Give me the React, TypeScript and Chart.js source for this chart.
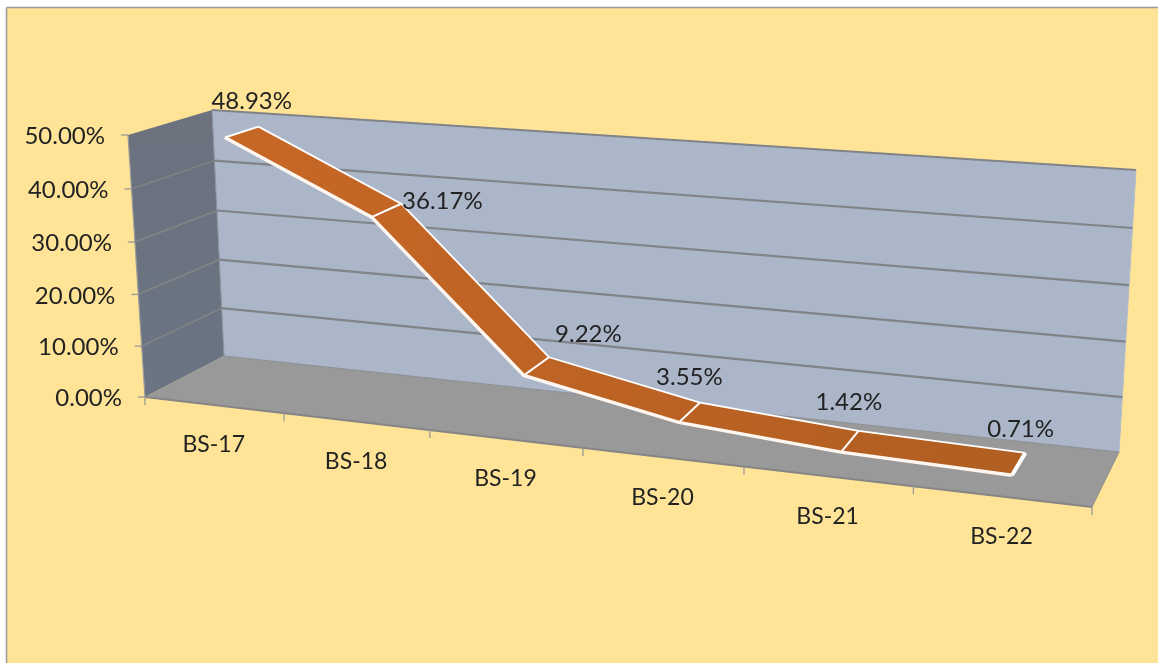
import React, { useEffect, useRef } from "react";
import { Chart, registerables } from "chart.js";

Chart.register(...registerables);

const categories = ["BS-17", "BS-18", "BS-19", "BS-20", "BS-21", "BS-22"];
const shareValues = [48.93, 36.17, 9.22, 3.55, 1.42, 0.71];
const valueLabels = ["48.93%", "36.17%", "9.22%", "3.55%", "1.42%", "0.71%"];
const yMin = 0;
const yMax = 50;
const yStep = 10;

// Layout of the 3D box, separate from the data
type Pt = [number, number];
const FRONT_BOTTOM_L: Pt = [145, 397];
const FRONT_BOTTOM_R: Pt = [1092, 507];
const FRONT_TOP_L: Pt = [128, 135];
const FRONT_TOP_R: Pt = [1107, 204];
const BACK_BOTTOM_L: Pt = [224, 356];
const BACK_BOTTOM_R: Pt = [1119, 452];
const BACK_TOP_L: Pt = [212, 110];
const BACK_TOP_R: Pt = [1136, 170];
const PERSPECTIVE = 0.8605;
const PERSPECTIVE_V = 0.965;
const RIBBON_FRONT = 0.32;
const RIBBON_BACK = 0.74;
const RIBBON_MID = 0.53;
const LABEL_SHIFT: Pt[] = [
  [10, -31],
  [56, -9],
  [52, -32],
  [0, -35],
  [-1, -39],
  [2, -35],
];
const FONT = '24px Lato, "Open Sans", sans-serif';
const CATEGORY_FONT = '23px Lato, "Open Sans", sans-serif';
const TEXT = "#222222";

const lerp = (a: number, b: number, t: number) => a + (b - a) * t;
const lerpP = (a: Pt, b: Pt, t: number): Pt => [lerp(a[0], b[0], t), lerp(a[1], b[1], t)];

function project(u: number, v: number, d: number): Pt {
  const t = (u * PERSPECTIVE) / (1 - u + u * PERSPECTIVE);
  const s = (v * PERSPECTIVE_V) / (1 - v + v * PERSPECTIVE_V);
  const fb = lerpP(FRONT_BOTTOM_L, FRONT_BOTTOM_R, t);
  const ft = lerpP(FRONT_TOP_L, FRONT_TOP_R, t);
  const bb = lerpP(BACK_BOTTOM_L, BACK_BOTTOM_R, t);
  const bt = lerpP(BACK_TOP_L, BACK_TOP_R, t);
  return lerpP(lerpP(fb, ft, s), lerpP(bb, bt, s), d);
}

function norm(chart: any, i: number, value: number): [number, number] {
  const x = chart.scales.x;
  const y = chart.scales.y;
  return [(x.getPixelForValue(i) - x.left) / x.width, (y.bottom - y.getPixelForValue(value)) / y.height];
}

function poly(ctx: CanvasRenderingContext2D, pts: Pt[], fill: string | CanvasGradient) {
  ctx.beginPath();
  pts.forEach((p, i) => (i ? ctx.lineTo(p[0], p[1]) : ctx.moveTo(p[0], p[1])));
  ctx.closePath();
  ctx.fillStyle = fill;
  ctx.fill();
}

function seg(ctx: CanvasRenderingContext2D, a: Pt, b: Pt, color: string, width: number) {
  ctx.beginPath();
  ctx.moveTo(a[0], a[1]);
  ctx.lineTo(b[0], b[1]);
  ctx.strokeStyle = color;
  ctx.lineWidth = width;
  ctx.stroke();
}

const box3d = {
  id: "box3d",
  afterDatasetsUpdate(chart: any) {
    const meta = chart.getDatasetMeta(0);
    meta.data.forEach((el: any, i: number) => {
      const [u, v] = norm(chart, i, shareValues[i]);
      const p = project(u, v, RIBBON_FRONT);
      el.x = p[0];
      el.y = p[1];
    });
  },
  beforeDraw(chart: any) {
    const ctx: CanvasRenderingContext2D = chart.ctx;
    const { width, height } = chart;
    ctx.save();
    ctx.fillStyle = "#ffffff";
    ctx.fillRect(0, 0, width, height);
    ctx.fillStyle = "#FFE497";
    ctx.fillRect(7, 8, width - 7, height - 11);
    seg(ctx, [6.5, 7.5], [width, 7.5], "#999999", 1.5);
    seg(ctx, [6.5, 7.5], [6.5, height - 3], "#999999", 1.5);

    // walls and floor
    const wall = ctx.createLinearGradient(0, 110, 0, 400);
    wall.addColorStop(0, "#6C727E");
    wall.addColorStop(1, "#6A7483");
    poly(ctx, [project(0, 0, 0), project(0, 1, 0), project(0, 1, 1), project(0, 0, 1)], wall);
    poly(ctx, [project(0, 0, 1), project(0, 1, 1), project(1, 1, 1), project(1, 0, 1)], "#ABB6C9");
    poly(ctx, [project(0, 0, 0), project(0, 0, 1), project(1, 0, 1), project(1, 0, 0)], "#999999");
    seg(ctx, project(0, 0, 0), project(0, 1, 0), "#9a9a9a", 1.2);
    seg(ctx, project(0, 0, 1), project(0, 1, 1), "#8a919e", 1);
    seg(ctx, project(1, 0, 1), project(1, 1, 1), "#b4bccb", 1);
    seg(ctx, project(1, 0, 0), project(1, 0, 1), "#8f8f8f", 1);
    seg(ctx, project(0, 0, 0), project(1, 0, 0), "#858585", 2);

    // value axis: gridlines, ticks and tick labels from the scale
    const y = chart.scales.y;
    ctx.font = FONT;
    ctx.textBaseline = "middle";
    y.ticks.forEach((tick: any) => {
      const v = (y.bottom - y.getPixelForValue(tick.value)) / y.height;
      const a = project(0, v, 0);
      const b = project(0, v, 1);
      const c = project(1, v, 1);
      if (v > 0 && v < 1) seg(ctx, a, b, "#858585", 1.5);
      seg(ctx, b, c, v > 0 ? "#808388" : "#8b8f96", v > 0 ? 2.2 : 1.2);
      seg(ctx, [a[0] - 7, a[1]], a, "#999999", 1.3);
      ctx.fillStyle = TEXT;
      ctx.textAlign = "right";
      ctx.fillText(`${tick.value.toFixed(2)}%`, a[0] - 23, a[1] + 1.5);
    });

    // category axis: ticks and labels from the scale
    for (let i = 0; i <= categories.length; i++) {
      const p = project(i / categories.length, 0, 0);
      seg(ctx, p, [p[0], p[1] + 8], "#999999", 1.3);
    }
    const x = chart.scales.x;
    ctx.font = CATEGORY_FONT;
    ctx.textAlign = "center";
    categories.forEach((name, i) => {
      const u = (x.getPixelForValue(i) - x.left) / x.width;
      const p = project(u, 0, 0);
      ctx.fillStyle = TEXT;
      ctx.fillText(name, p[0], p[1] + 40);
    });
    ctx.restore();
  },
  beforeDatasetsDraw(chart: any) {
    const ctx: CanvasRenderingContext2D = chart.ctx;
    const pf: Pt[] = [];
    const pb: Pt[] = [];
    shareValues.forEach((val, i) => {
      const [u, v] = norm(chart, i, val);
      pf.push(project(u, v, RIBBON_FRONT));
      pb.push(project(u, v, RIBBON_BACK));
    });
    ctx.save();
    ctx.lineJoin = "round";
    const grad = ctx.createLinearGradient(pf[0][0], 0, pb[pb.length - 1][0], 0);
    grad.addColorStop(0, "#C76726");
    grad.addColorStop(1, "#B05E22");
    poly(ctx, [...pf, ...[...pb].reverse()], grad);
    ctx.beginPath();
    pb.forEach((p, i) => (i ? ctx.lineTo(p[0], p[1]) : ctx.moveTo(p[0], p[1])));
    ctx.strokeStyle = "#ffffff";
    ctx.lineWidth = 1.8;
    ctx.stroke();
    pf.forEach((p, i) => {
      const last = i === pf.length - 1;
      seg(ctx, p, pb[i], "#ffffff", last ? 4 : 2);
    });
    ctx.restore();
  },
  afterDatasetsDraw(chart: any) {
    const ctx: CanvasRenderingContext2D = chart.ctx;
    ctx.save();
    ctx.font = FONT;
    ctx.textAlign = "center";
    ctx.textBaseline = "middle";
    ctx.fillStyle = TEXT;
    valueLabels.forEach((label, i) => {
      const [u, v] = norm(chart, i, shareValues[i]);
      const p = project(u, v, RIBBON_MID);
      ctx.fillText(label, p[0] + LABEL_SHIFT[i][0], p[1] + LABEL_SHIFT[i][1]);
    });
    ctx.restore();
  },
};

export default function App() {
  const ref = useRef<HTMLCanvasElement>(null);
  useEffect(() => {
    document.body.style.margin = "0";
    const chart = new Chart(ref.current!, {
      type: "line",
      data: {
        labels: categories,
        datasets: [
          {
            label: "Share",
            data: shareValues,
            borderColor: "#fff6f0",
            borderWidth: 3.5,
            pointRadius: 0,
            tension: 0,
            fill: false,
            clip: false,
          } as any,
        ],
      },
      options: {
        animation: false,
        responsive: false,
        events: [],
        layout: { padding: 0 },
        plugins: { legend: { display: false }, tooltip: { enabled: false }, title: { display: false } },
        scales: {
          x: {
            type: "category",
            offset: true,
            grid: { display: false },
            border: { display: false },
            ticks: { display: false },
          },
          y: {
            type: "linear",
            min: yMin,
            max: yMax,
            grid: { display: false },
            border: { display: false },
            ticks: { display: false, stepSize: yStep },
          },
        },
      },
      plugins: [box3d],
    });
    return () => chart.destroy();
  }, []);
  return (
    <div style={{ position: "fixed", left: 0, top: 0, width: 1158, height: 666 }}>
      <canvas ref={ref} width={1158} height={666} style={{ display: "block" }} />
    </div>
  );
}
